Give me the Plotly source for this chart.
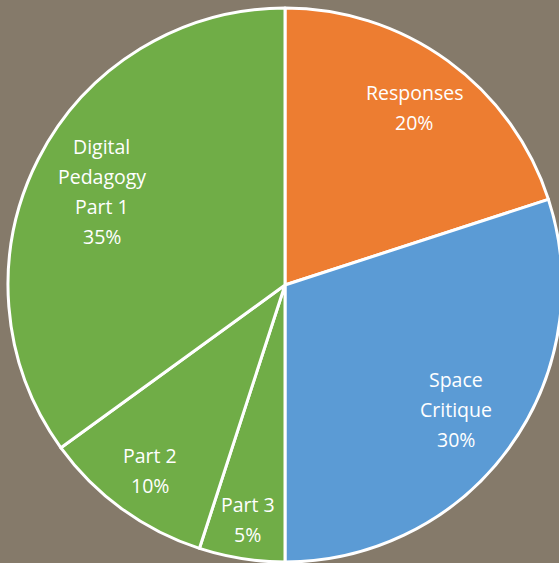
import math
import plotly.graph_objects as go

labels = ["Responses", "Space<br>Critique", "Part 3", "Part 2", "Digital<br>Pedagogy<br>Part 1"]
values = [20, 30, 5, 10, 35]
colors = ["#ED7D31", "#5B9BD5", "#70AD47", "#70AD47", "#70AD47"]

W, H = 570, 563
cx, cy, r = 285, 285, 277
FONT = "Open Sans, sans-serif"
FS = 19.5
LINE = 30
PAD = 4

fig = go.Figure(go.Pie(
    labels=labels,
    values=values,
    sort=False,
    direction="clockwise",
    rotation=0,
    marker=dict(colors=colors, line=dict(color="white", width=3)),
    textinfo="none",
    showlegend=False,
    hoverinfo="skip",
    domain=dict(x=[(cx - r) / W, (cx + r) / W], y=[(H - cy - r) / H, (H - cy + r) / H]),
))

# data labels, placed inside each slice (best-fit style, near the rim)
total = sum(values)
cum = 0
for lab, v in zip(labels, values):
    mid = (cum + v / 2) / total * 2 * math.pi
    cum += v
    dx, dy = math.sin(mid), -math.cos(mid)
    lines = lab.split("<br>") + [f"{round(v / total * 100)}%"]
    hw = max(len(s) for s in lines) * 0.55 * FS / 2
    hh = len(lines) * LINE / 2
    lo, hi = 0.0, r
    for _ in range(50):
        t = (lo + hi) / 2
        px = abs(t * dx) + hw
        py = abs(t * dy) + hh
        if math.hypot(px, py) <= r - PAD:
            lo = t
        else:
            hi = t
    bx, by = cx + lo * dx, cy + lo * dy
    n = len(lines)
    for i, s in enumerate(lines):
        ly = by + (i - (n - 1) / 2) * LINE
        fig.add_annotation(
            x=bx / W, y=1 - ly / H, xref="paper", yref="paper",
            text=s, showarrow=False, xanchor="center", yanchor="middle",
            font=dict(family=FONT, size=FS, color="white"),
        )

fig.update_layout(
    width=W, height=H, autosize=False,
    margin=dict(l=0, r=0, t=0, b=0),
    paper_bgcolor="#857A6A",
    plot_bgcolor="#857A6A",
    showlegend=False,
)
fig.write_html(
    "out.html",
    config={"displayModeBar": False},
    post_script="document.body.style.margin='0';document.body.style.overflow='hidden';document.body.style.background='#857A6A';",
)
